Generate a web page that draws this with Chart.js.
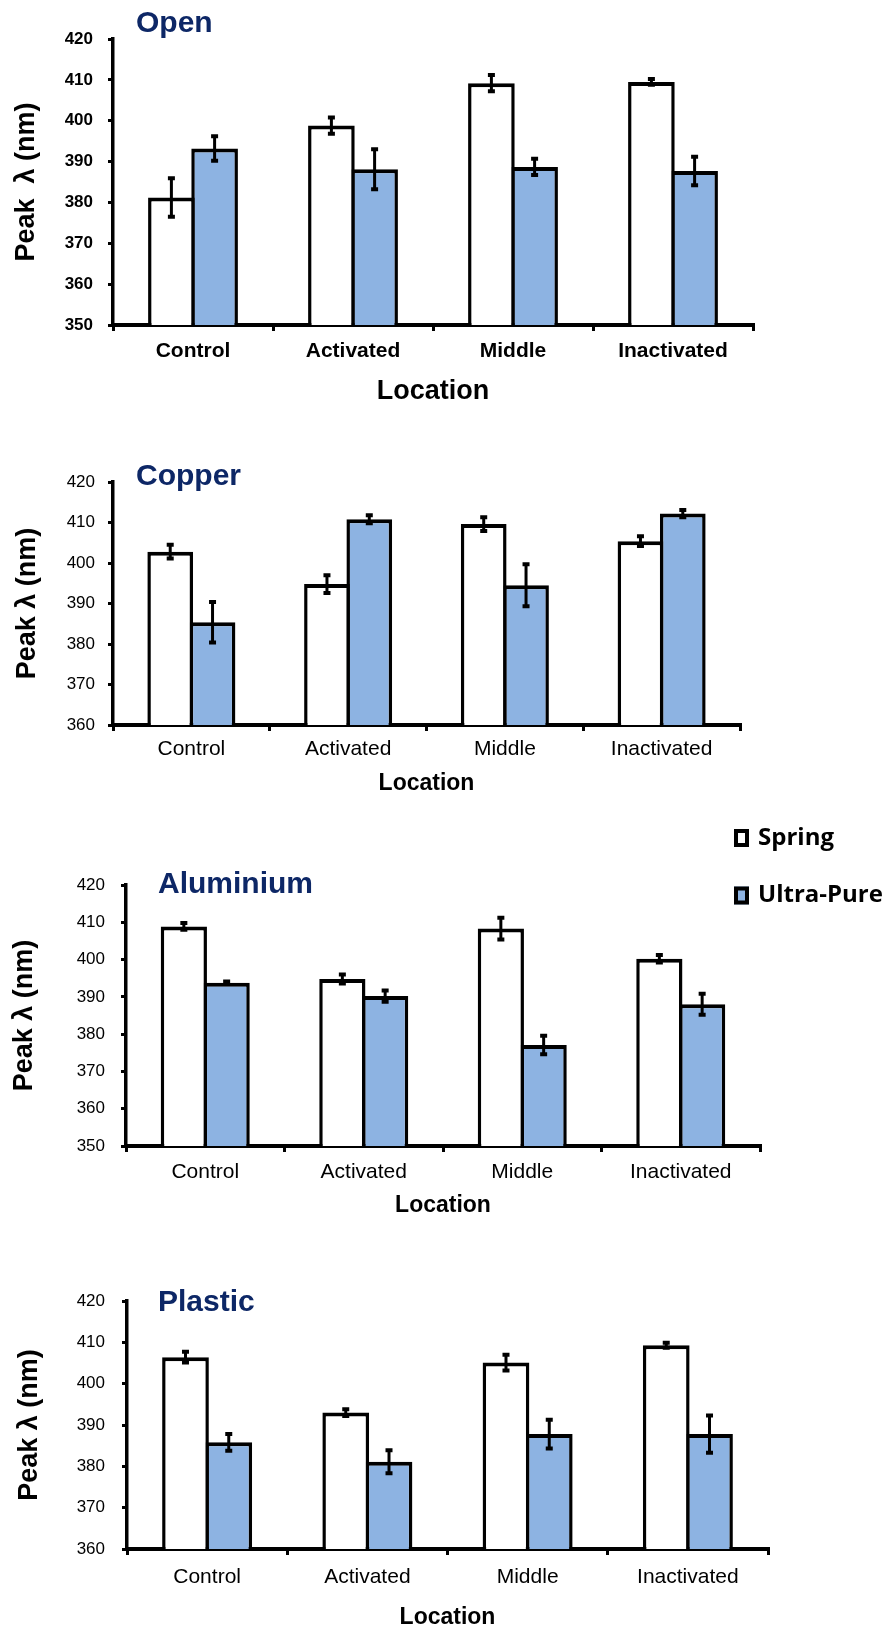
<!DOCTYPE html>
<html>
<head>
<meta charset="utf-8">
<script src="https://cdn.jsdelivr.net/npm/chart.js@4.4.1/dist/chart.umd.min.js"></script>
<style>
  html, body { margin: 0; padding: 0; background: #fff; }
  body { width: 892px; height: 1628px; position: relative; overflow: hidden; }
  canvas { position: absolute; left: 0; }
</style>
</head>
<body>
<canvas id="open-chart" width="892" height="410" style="top:0px"></canvas>
<canvas id="copper-chart" width="892" height="360" style="top:440px"></canvas>
<canvas id="aluminium-chart" width="892" height="420" style="top:800px"></canvas>
<canvas id="plastic-chart" width="892" height="388" style="top:1240px"></canvas>
<script>
const locations = ["Control", "Activated", "Middle", "Inactivated"]
const seriesNames = ["Spring", "Ultra-Pure"]

// open
const openSpring = [381.2, 398.8, 409.2, 409.5]
const openSpringErr = [4.7, 2.0, 2.0, 0.7]
const openUltra = [393.2, 388.1, 388.7, 387.7]
const openUltraErr = [3.0, 4.9, 2.0, 3.5]

// copper
const copperSpring = [402.8, 394.8, 409.6, 405.4]
const copperSpringErr = [1.7, 2.2, 1.7, 1.2]
const copperUltra = [385.4, 410.8, 394.5, 412.2]
const copperUltraErr = [5.0, 1.0, 5.2, 0.9]

// aluminium
const aluminiumSpring = [408.9, 394.8, 408.3, 400.2]
const aluminiumSpringErr = [0.9, 1.2, 2.9, 1.0]
const aluminiumUltra = [393.8, 390.2, 377.1, 388.0]
const aluminiumUltraErr = [0.3, 1.5, 2.5, 2.8]

// plastic
const plasticSpring = [406.4, 393.0, 405.1, 409.3]
const plasticSpringErr = [1.3, 0.8, 1.9, 0.6]
const plasticUltra = [385.8, 381.1, 387.8, 387.8]
const plasticUltraErr = [2.0, 2.8, 3.5, 4.5]

const seriesColors = ["#ffffff", "#8db3e2"]
const titleColor = "#0d2766"
const fontFamily = "'Liberation Sans', Arial, sans-serif"

Chart.defaults.font.family = fontFamily
Chart.defaults.color = "#000"

// error bars, drawn from each bar's position and the y scale
const errorBars = {
  id: "errorBars",
  afterDatasetsDraw(chart) {
    const ctx = chart.ctx
    const y = chart.scales.y
    ctx.save()
    ctx.strokeStyle = "#000"
    chart.data.datasets.forEach((ds, i) => {
      chart.getDatasetMeta(i).data.forEach((bar, j) => {
        const top = y.getPixelForValue(ds.data[j] + ds.errors[j])
        const bottom = y.getPixelForValue(ds.data[j] - ds.errors[j])
        ctx.lineWidth = 3
        ctx.beginPath()
        ctx.moveTo(bar.x, top)
        ctx.lineTo(bar.x, bottom)
        ctx.stroke()
        ctx.lineWidth = 4
        ctx.beginPath()
        ctx.moveTo(bar.x - 3.5, top)
        ctx.lineTo(bar.x + 3.5, top)
        ctx.moveTo(bar.x - 3.5, bottom)
        ctx.lineTo(bar.x + 3.5, bottom)
        ctx.stroke()
      })
    })
    ctx.restore()
  },
}

// panel title (Open, Copper...)
const panelTitle = {
  id: "panelTitle",
  afterDraw(chart, args, opts) {
    const ctx = chart.ctx
    ctx.save()
    ctx.font = "bold 30px " + fontFamily
    ctx.fillStyle = titleColor
    ctx.textBaseline = "alphabetic"
    ctx.fillText(opts.text, opts.x, opts.y)
    ctx.restore()
  },
}

// stacked legend to the right of the aluminium panel
const sideLegend = {
  id: "sideLegend",
  afterDraw(chart, args, opts) {
    const ctx = chart.ctx
    ctx.save()
    ctx.font = "bold 24px 'Open Sans'"
    ctx.textBaseline = "middle"
    chart.data.datasets.forEach((ds, i) => {
      const cy = opts.y + i * opts.gap
      ctx.fillStyle = ds.backgroundColor
      ctx.fillRect(opts.x, cy - 9, 15, 18)
      ctx.lineWidth = 4
      ctx.strokeStyle = "#000"
      ctx.strokeRect(opts.x + 2, cy - 7, 11, 14)
      ctx.fillStyle = "#000"
      ctx.fillText(ds.label, opts.x + 24, cy)
    })
    ctx.restore()
  },
}

function makeChart(id, spring, springErr, ultra, ultraErr, cfg) {
  const weight = cfg.bold ? "bold" : "normal"
  const data = {
    labels: locations,
    datasets: [spring, ultra].map((values, i) => ({
      label: seriesNames[i],
      data: values,
      errors: i === 0 ? springErr : ultraErr,
      backgroundColor: seriesColors[i],
      borderColor: "#000",
      borderWidth: { top: 4, left: 3.5, right: 3.5, bottom: 0 },
      borderSkipped: "bottom",
      categoryPercentage: 0.54,
      barPercentage: 1.08,
    })),
  }
  const options = {
    responsive: false,
    animation: false,
    layout: {
      padding: { top: cfg.top, right: 892 - cfg.right, left: 0, bottom: 0 },
    },
    scales: {
      x: {
        z: 1,
        afterFit: (s) => { s.height = cfg.xHeight },
        grid: { drawOnChartArea: false, color: "#000", lineWidth: 3, tickLength: 6 },
        border: { color: "#000", width: 4 },
        ticks: { color: "#000", padding: cfg.xPad, font: { size: 21, weight: weight } },
        title: {
          display: true,
          text: "Location",
          color: "#000",
          font: { size: cfg.locSize, weight: "bold" },
          padding: { top: 0, bottom: cfg.locPad },
        },
      },
      y: {
        min: cfg.min,
        max: 420,
        afterFit: (s) => { s.width = cfg.left },
        grid: { drawOnChartArea: false, color: "#000", lineWidth: 3, tickLength: 5 },
        border: { color: "#000", width: 3.5 },
        ticks: { stepSize: 10, color: "#000", padding: cfg.yPad, font: { size: 17, weight: weight } },
        title: {
          display: true,
          text: cfg.yTitle,
          color: "#000",
          font: { size: 27, weight: "bold" },
          padding: { top: cfg.yTitlePad, bottom: 0 },
        },
      },
    },
    plugins: {
      legend: { display: false },
      tooltip: { enabled: false },
      panelTitle: cfg.title,
      sideLegend: cfg.legend || {},
    },
  }
  const plugins = [errorBars, panelTitle]
  if (cfg.legend) plugins.push(sideLegend)
  return new Chart(document.getElementById(id), { type: "bar", data: data, options: options, plugins: plugins })
}

let openChart = makeChart("open-chart", openSpring, openSpringErr, openUltra, openUltraErr, {
  bold: true, min: 350, top: 39, left: 113, right: 753, xHeight: 85, xPad: 8,
  locSize: 27, locPad: 2, yPad: 15, yTitle: "Peak  λ (nm)", yTitlePad: 10,
  title: { text: "Open", x: 136, y: 32 },
})

let copperChart = makeChart("copper-chart", copperSpring, copperSpringErr, copperUltra, copperUltraErr, {
  bold: false, min: 360, top: 42, left: 113, right: 740, xHeight: 75, xPad: 6,
  locSize: 23, locPad: 3, yPad: 13, yTitle: "Peak λ (nm)", yTitlePad: 11,
  title: { text: "Copper", x: 136, y: 45 },
})

let aluminiumChart = makeChart("aluminium-chart", aluminiumSpring, aluminiumSpringErr, aluminiumUltra, aluminiumUltraErr, {
  bold: false, min: 350, top: 85, left: 126, right: 760, xHeight: 74, xPad: 8,
  locSize: 23, locPad: 1, yPad: 16, yTitle: "Peak λ (nm)", yTitlePad: 8,
  title: { text: "Aluminium", x: 158, y: 93 },
  legend: { x: 734, y: 38, gap: 57.5 },
})

let plasticChart = makeChart("plastic-chart", plasticSpring, plasticSpringErr, plasticUltra, plasticUltraErr, {
  bold: false, min: 360, top: 61, left: 127, right: 768, xHeight: 79, xPad: 10,
  locSize: 23, locPad: -3, yPad: 17, yTitle: "Peak λ (nm)", yTitlePad: 13,
  title: { text: "Plastic", x: 158, y: 71 },
})
</script>
</body>
</html>
